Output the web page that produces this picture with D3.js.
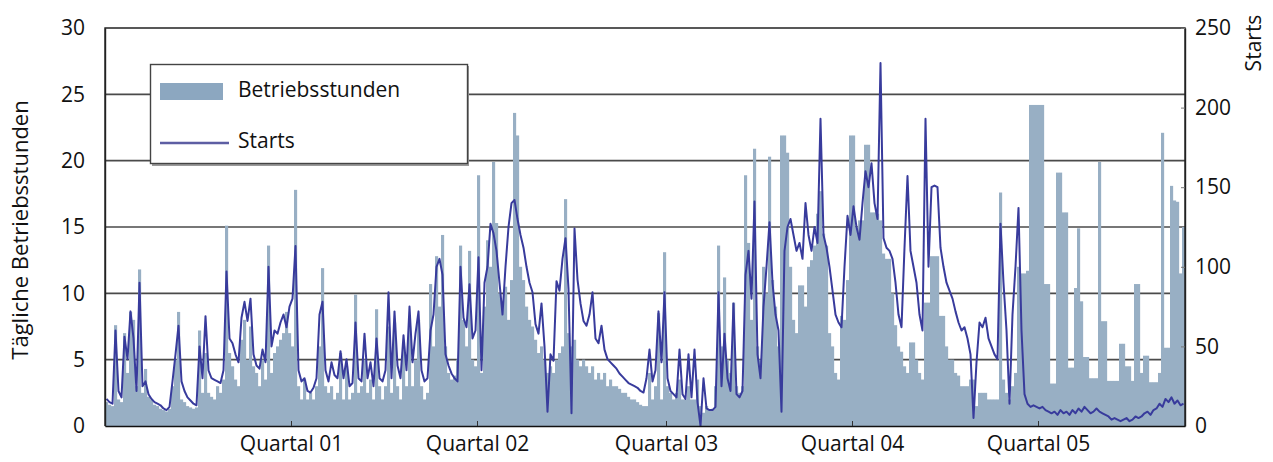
<!DOCTYPE html>
<html>
<head>
<meta charset="utf-8">
<script src="https://cdn.jsdelivr.net/npm/d3@7"></script>
<style>
  html, body { margin: 0; padding: 0; background: #fff; }
  svg { display: block; font-family: "Open Sans", "Noto Sans", sans-serif; }
</style>
</head>
<body>
<svg id="chart" width="1273" height="462"></svg>
<script>
// Daily operating hours (left axis)
const hours = [
1.8,1.6,1.5,7.6,2.0,1.8,7.0,4.0,8.6,8.0,
3.0,11.8,2.5,4.3,2.2,2.0,1.6,1.5,1.3,1.2,
1.1,1.3,3.0,5.0,8.6,2.0,1.8,1.5,1.4,1.3,
1.4,7.2,2.5,5.5,2.5,2.2,2.0,3.0,2.5,3.5,
15.1,5.5,4.5,3.5,3.0,6.5,8.0,5.0,7.5,4.5,
4.0,3.0,5.0,3.5,13.6,4.0,5.5,6.0,6.5,7.0,
8.6,7.0,6.0,17.8,3.0,2.0,3.5,2.0,2.5,2.0,
3.0,6.0,11.9,3.0,2.5,3.0,2.0,2.5,5.5,2.0,
4.5,2.0,2.5,9.9,2.5,3.0,5.0,2.5,3.5,2.0,
8.8,3.0,2.0,3.0,7.5,2.5,7.8,3.0,2.0,6.0,
3.0,7.5,3.0,5.0,8.0,3.0,2.0,2.5,10.7,6.0,
12.8,9.0,14.4,6.0,4.0,3.5,3.8,5.0,13.6,8.0,
6.0,13.2,5.0,4.5,18.9,4.0,9.0,14.0,12.0,19.9,
15.3,10.0,9.0,10.5,8.0,11.0,23.6,21.9,12.0,11.0,
9.0,8.0,7.5,6.5,5.5,6.0,5.0,4.0,4.5,4.0,
5.0,5.5,6.0,17.1,7.0,6.0,6.5,5.0,4.5,5.0,
4.5,4.0,4.5,3.5,4.0,3.5,4.0,3.0,3.5,3.0,
3.0,2.8,2.5,2.5,2.2,2.0,2.0,1.8,1.6,1.5,
1.5,4.0,2.0,3.0,8.5,2.0,13.1,3.0,2.5,2.0,
2.5,3.5,2.0,2.0,3.0,2.0,2.0,3.5,1.5,1.0,
1.5,1.2,1.3,3.0,13.6,6.0,11.2,5.0,4.0,9.3,
3.0,2.5,3.0,18.9,13.8,8.0,20.9,6.0,5.0,12.0,
10.0,20.3,11.0,9.0,6.0,21.9,21.9,20.6,12.0,8.0,
7.0,10.6,10.6,9.0,12.0,12.5,13.6,16.0,17.7,14.5,
13.6,7.0,6.0,4.0,3.5,8.3,8.0,11.0,21.9,21.9,
15.0,15.5,15.5,21.2,21.2,16.1,16.1,16.0,15.5,13.0,
12.6,12.6,10.0,7.6,6.0,5.6,4.5,4.0,6.3,6.3,
5.0,4.0,3.5,9.3,9.3,12.8,12.8,12.8,8.3,8.3,
6.0,5.0,5.0,4.0,3.8,3.0,3.0,3.0,3.5,3.5,
1.5,2.5,2.5,2.5,2.0,2.0,2.0,2.0,17.6,3.5,
2.5,2.0,3.0,4.0,12.0,11.5,11.5,11.7,24.2,24.2,
24.2,24.2,24.2,10.7,10.7,3.2,3.2,19.1,19.1,16.1,
16.1,4.4,4.4,10.4,14.9,9.4,5.2,5.2,3.6,3.6,
3.6,19.9,7.9,7.9,3.4,3.4,3.4,3.4,6.2,6.2,
4.5,4.5,3.4,10.7,10.7,4.0,5.3,5.3,3.3,3.3,
3.3,4.0,22.1,5.9,5.9,18.1,17.0,16.9,11.5,15.0
];

// Daily number of starts (right axis)
const starts = [
17,15,14,60,22,18,56,42,72,55,
22,90,25,28,20,17,15,14,13,11,
10,12,28,45,63,28,22,18,16,14,
13,50,30,69,35,30,29,28,27,35,
97,55,52,45,40,68,78,66,80,45,
38,36,48,40,100,50,60,58,65,70,
62,75,80,113,35,28,30,22,21,24,
30,70,78,35,28,40,32,30,47,30,
42,25,27,65,30,28,58,30,40,25,
55,30,28,35,84,30,72,38,30,57,
35,75,40,58,72,35,28,30,60,70,
100,105,95,45,38,33,30,28,100,68,
62,89,55,60,106,35,90,100,127,121,
110,90,70,100,125,140,142,130,120,112,
100,90,84,64,58,77,50,9,45,41,
91,85,105,118,86,8,124,92,77,66,
63,70,84,55,52,63,48,42,40,38,
36,33,31,29,27,26,25,24,22,21,
30,48,28,35,72,40,84,30,22,20,
18,48,20,17,45,18,48,15,0,30,
11,10,10,12,84,25,58,30,22,77,
20,18,22,95,110,80,141,45,30,75,
100,128,90,70,60,9,110,125,130,120,
110,115,105,140,120,110,125,115,193,120,
112,100,85,70,65,62,100,132,120,138,
125,117,140,160,150,165,140,130,228,118,
112,110,105,90,70,62,112,157,110,100,
90,70,60,193,100,150,151,150,112,100,
90,85,80,72,65,60,62,55,45,5,
40,65,62,68,55,50,45,42,127,90,
60,14,70,100,137,60,20,14,12,13,
12,11,12,10,9,8,9,7,10,8,
9,7,10,8,11,9,12,10,8,9,
11,9,8,7,6,4,5,4,3,4,
5,3,4,6,5,6,8,9,7,10,
11,14,12,17,15,18,14,16,13,14
];

// Quarter tick positions (day index) and labels
const quarterDays = [62, 124, 187, 249, 311];
const quarterLabels = ["Quartal 01", "Quartal 02", "Quartal 03", "Quartal 04", "Quartal 05"];
const leftTicks = [0, 5, 10, 15, 20, 25, 30];
const rightTicks = [0, 50, 100, 150, 200, 250];
const seriesNames = ["Betriebsstunden", "Starts"];
const axisTitles = ["Tägliche Betriebsstunden", "Starts"];

const L = 105, R = 1185, T = 28, B = 426;
const svg = d3.select("#chart");
const N = hours.length;

const x = d3.scaleLinear().domain([0, N]).range([L, R]);
const yL = d3.scaleLinear().domain([0, 30]).range([B, T]);
const yR = d3.scaleLinear().domain([0, 250]).range([B, T]);

const barColor = "#98afc4";
const lineColor = "#383b9c";

// gridlines
svg.append("g").selectAll("line").data(leftTicks.filter(d => d > 0 && d < 30)).join("line")
  .attr("x1", L).attr("x2", R).attr("y1", d => yL(d)).attr("y2", d => yL(d))
  .attr("stroke", "#4a4a4a").attr("stroke-width", 1.6);

// bars
svg.append("g").selectAll("rect").data(hours).join("rect")
  .attr("x", (d, i) => x(i))
  .attr("width", (d, i) => x(i + 1) - x(i) + 0.15)
  .attr("y", d => yL(d))
  .attr("height", d => B - yL(d))
  .attr("fill", barColor);

// line
const line = d3.line().x((d, i) => x(i + 0.5)).y(d => yR(d));
svg.append("path").datum(starts).attr("d", line)
  .attr("fill", "none").attr("stroke", lineColor).attr("stroke-width", 2)
  .attr("stroke-linejoin", "round");

// frame
svg.append("path")
  .attr("d", `M${L},${B}V${T}H${R}V${B}`)
  .attr("fill", "none").attr("stroke", "#222").attr("stroke-width", 1.4);

// left axis
const axL = svg.append("g").attr("transform", `translate(${L},0)`)
  .call(d3.axisLeft(yL).tickValues(leftTicks).tickSize(0).tickPadding(20));
axL.select(".domain").attr("stroke", "#222").attr("stroke-width", 1.4);
axL.selectAll("text").attr("font-size", 21).attr("fill", "#111")
  .attr("font-family", "'Open Sans', sans-serif");

// right axis
const axR = svg.append("g").attr("transform", `translate(${R},0)`)
  .call(d3.axisRight(yR).tickValues(rightTicks).tickSizeInner(-4).tickSizeOuter(0).tickPadding(10));
axR.select(".domain").attr("stroke", "#222").attr("stroke-width", 1.4);
axR.selectAll(".tick line").attr("stroke", "#777");
axR.selectAll("text").attr("font-size", 21).attr("fill", "#111")
  .attr("font-family", "'Open Sans', sans-serif");

// bottom axis
const axB = svg.append("g").attr("transform", `translate(0,${B})`)
  .call(d3.axisBottom(x).tickValues(quarterDays).tickFormat((d, i) => quarterLabels[i])
    .tickSizeInner(-5).tickSizeOuter(0).tickPadding(10));
axB.select(".domain").attr("stroke", "#111").attr("stroke-width", 1.6);
axB.selectAll(".tick line").attr("stroke", "#333");
axB.selectAll("text").attr("font-size", 21).attr("fill", "#111")
  .attr("font-family", "'Open Sans', sans-serif");

// axis titles
svg.append("text").attr("transform", "translate(28,230) rotate(-90)")
  .attr("text-anchor", "middle").attr("font-size", 22).attr("fill", "#111")
  .text(axisTitles[0]);
svg.append("text").attr("transform", "translate(1261,43) rotate(-90)")
  .attr("text-anchor", "middle").attr("font-size", 21).attr("fill", "#111")
  .text(axisTitles[1]);

// legend
const lg = svg.append("g");
lg.append("rect").attr("x", 152).attr("y", 66).attr("width", 317).attr("height", 100)
  .attr("fill", "#9a9a9a");
lg.append("rect").attr("x", 150.5).attr("y", 64.5).attr("width", 317).attr("height", 99)
  .attr("fill", "#fff").attr("stroke", "#444").attr("stroke-width", 1.4);
lg.append("rect").attr("x", 160).attr("y", 83).attr("width", 63).attr("height", 17)
  .attr("fill", "#8ca7c0");
lg.append("line").attr("x1", 160).attr("x2", 229).attr("y1", 143).attr("y2", 143)
  .attr("stroke", "#5d5ea3").attr("stroke-width", 2.5);
lg.append("text").attr("x", 238).attr("y", 97).attr("font-size", 21).attr("fill", "#111")
  .text(seriesNames[0]);
lg.append("text").attr("x", 238).attr("y", 148).attr("font-size", 21).attr("fill", "#111")
  .text(seriesNames[1]);
</script>
</body>
</html>
